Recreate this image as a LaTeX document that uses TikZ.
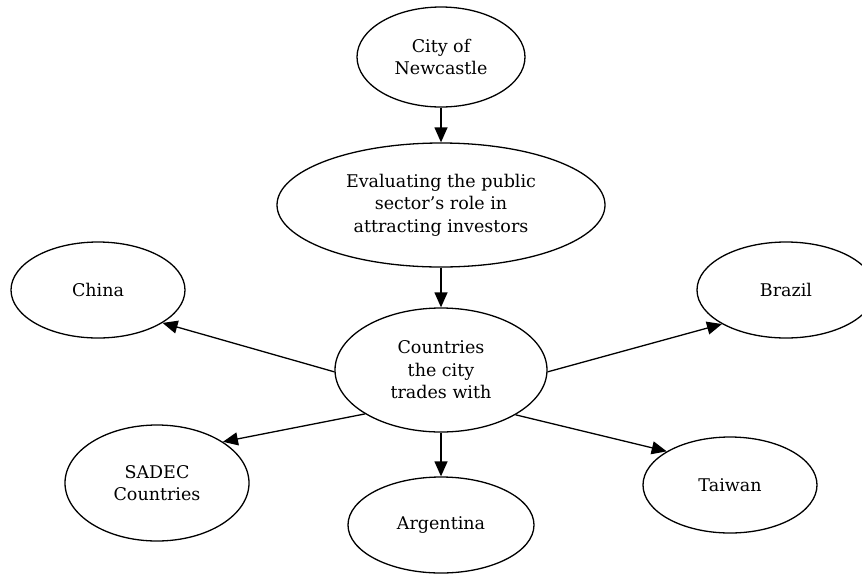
\documentclass[tikz,border=0pt]{standalone}
\usepackage{fontspec}
\setmainfont{DejaVu Serif}
\usetikzlibrary{shapes.geometric,arrows.meta}
\begin{document}
\begin{tikzpicture}[x=1pt,y=-1pt,
  bubble/.style={draw, ellipse, line width=1.3pt, inner sep=0pt, align=center,
    font=\fontsize{17.5}{22.5}\selectfont},
  link/.style={line width=1.3pt, -{Triangle[length=15pt,width=13pt]}}]
  \useasboundingbox (0,0) rectangle (862,574);
  % topic chain
  \node[bubble, minimum width=168pt, minimum height=100pt] (city) at (441,57) {City of\\Newcastle};
  \node[bubble, minimum width=328pt, minimum height=124pt] (eval) at (441,205) {Evaluating the public\\sector’s role in\\attracting investors};
  \node[bubble, minimum width=212pt, minimum height=124pt] (hub) at (441,370) {Countries\\the city\\trades with};
  % trading partners
  \node[bubble, minimum width=174pt, minimum height=96pt] (china) at (98,290) {China};
  \node[bubble, minimum width=178pt, minimum height=96pt] (brazil) at (786,290) {Brazil};
  \node[bubble, minimum width=184pt, minimum height=116pt] (sadec) at (157,483) {SADEC\\Countries};
  \node[bubble, minimum width=186pt, minimum height=96pt] (arg) at (441,525) {Argentina};
  \node[bubble, minimum width=174pt, minimum height=96pt] (taiwan) at (730,485) {Taiwan};
  % connectors
  \draw[link] (city.south) -- (eval.north);
  \draw[link] (eval.south) -- (hub.north);
  \draw[link] (hub.181) -- (china.-27);
  \draw[link] (hub.-1) -- (brazil.208);
  \draw[link] (hub.210) -- (sadec.32);
  \draw[link] (hub.south) -- (arg.north);
  \draw[link] (hub.-31) -- (taiwan.152);
\end{tikzpicture}
\end{document}
